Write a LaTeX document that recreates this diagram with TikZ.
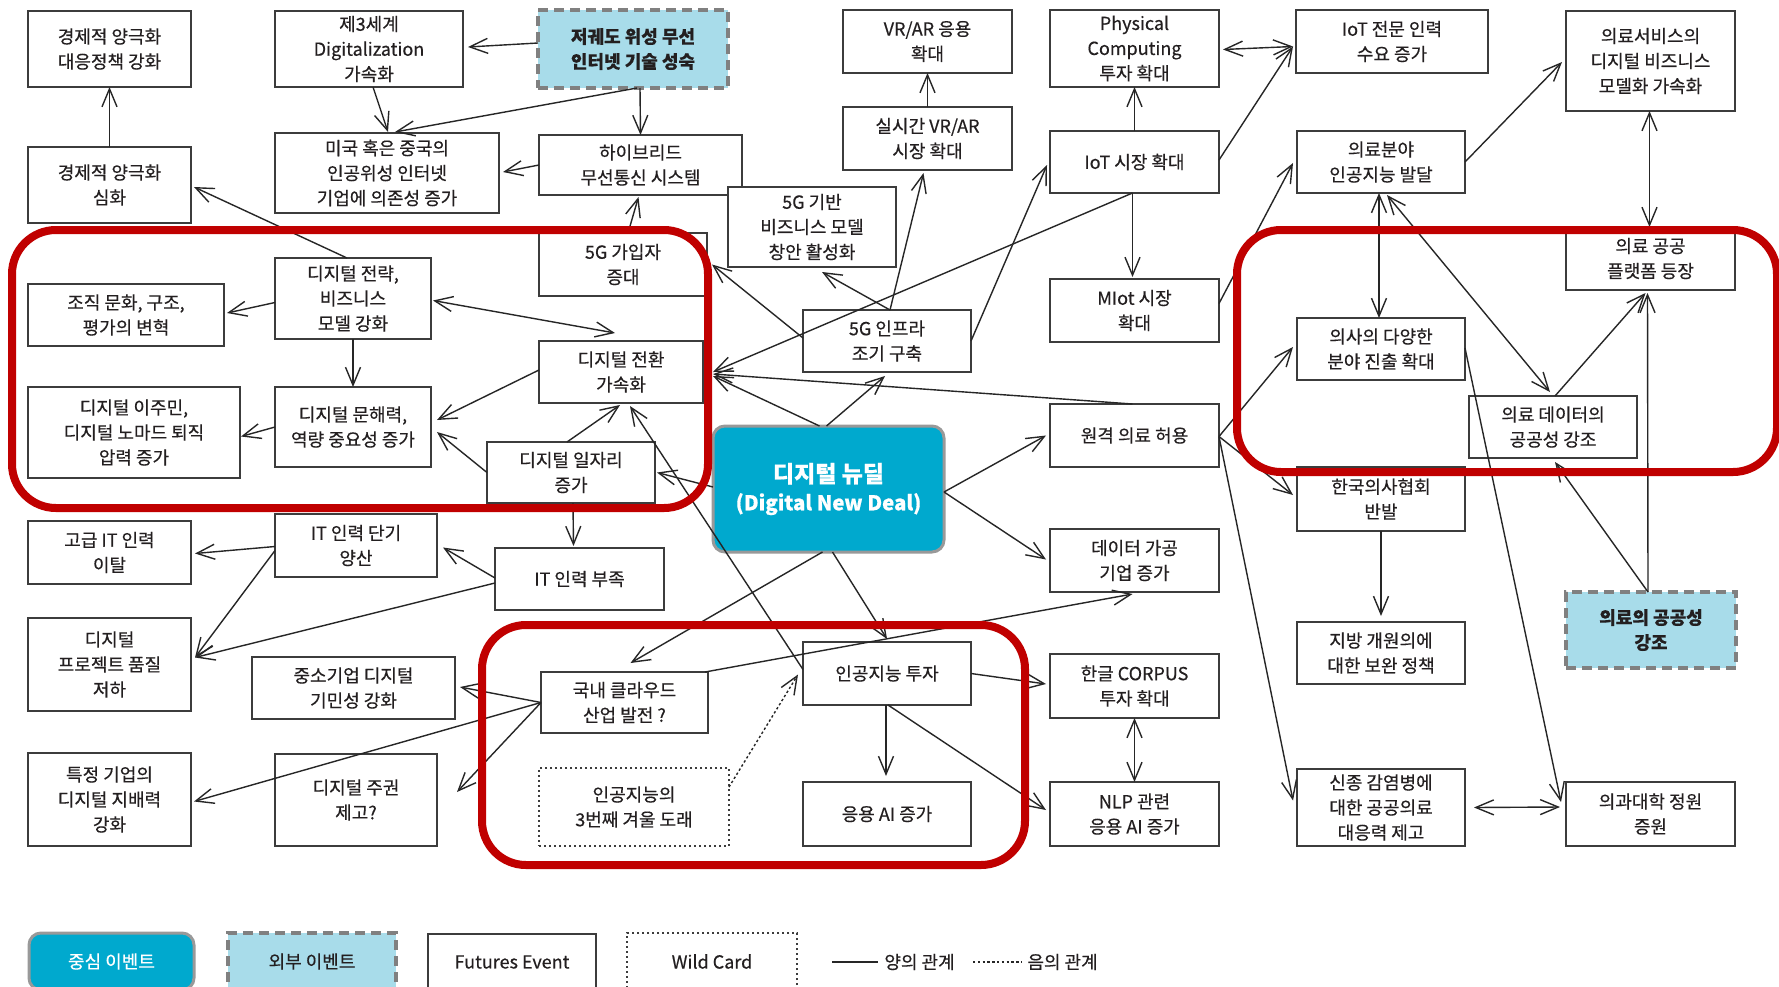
\documentclass[tikz,border=0pt]{standalone}
\usepackage{fontspec}
\newfontfamily\kr[FakeBold=0.4]{Noto Sans CJK KR}
\usetikzlibrary{arrows.meta,calc}
\definecolor{nd}{RGB}{0,169,206}
\definecolor{ext}{RGB}{168,220,234}
\definecolor{bdr}{RGB}{60,60,60}
\definecolor{redl}{RGB}{192,0,0}
\definecolor{txt}{RGB}{35,31,32}
\newcommand\bx[7][]{\node[box,#1,minimum width={(#5-#3)*0.5pt},minimum height={(#6-#4)*0.5pt}] (#2) at ({(#3+#5)/2},{(#4+#6)/2}) {#7};}
\begin{document}
\begin{tikzpicture}[x=0.5pt,y=-0.5pt,
  box/.style={draw=bdr,line width=0.9pt,fill=white,align=center,inner sep=0pt,outer sep=0pt,text=txt,font=\kr\fontsize{9}{12.5}\selectfont},
  extbox/.style={fill=ext,draw=gray,dash pattern=on 5pt off 3pt,line width=1.6pt,font=\kr\bfseries\fontsize{9}{12.5}\selectfont},
  wild/.style={dash pattern=on 1pt off 1.5pt,line width=0.8pt},
  ndbox/.style={fill=nd,draw=gray!80,line width=1.5pt,rounded corners=6pt,text=white,font=\kr\bfseries\fontsize{11.5}{14}\selectfont},
  arr/.style={line width=0.7pt,draw=black!85,-{Straight Barb[length=9pt,width=7.5pt]}},
  arr2/.style={line width=0.7pt,draw=black!85,{Straight Barb[length=9pt,width=7.5pt]}-{Straight Barb[length=9pt,width=7.5pt]}},
  arrd/.style={arr,dash pattern=on 1.2pt off 1.2pt},
  grp/.style={draw=redl,line width=4pt,rounded corners=22pt},
  lbl/.style={font=\kr\fontsize{9}{12.5}\selectfont,text=txt,inner sep=0pt}]
\useasboundingbox (0,0) rectangle (1779,986);
\clip (0,0) rectangle (1779,986);
\fill[white] (0,0) rectangle (1779,986);
% column A
\bx{A1}{28}{11}{191}{87}{경제적 양극화\\대응정책 강화}
\bx{A2}{28}{147}{191}{223}{경제적 양극화\\심화}
\bx{A3}{28}{284}{224}{346}{조직 문화, 구조,\\평가의 변혁}
\bx{A4}{28}{387}{240}{478}{디지털 이주민,\\디지털 노마드 퇴직\\압력 증가}
\bx{A5}{28}{521}{191}{584}{고급 IT 인력\\이탈}
\bx{A6}{28}{618}{191}{711}{디지털\\프로젝트 품질\\저하}
\bx{A7}{28}{753}{191}{846}{특정 기업의\\디지털 지배력\\강화}
% column B
\bx{B1}{275}{11}{463}{87}{제3세계\\Digitalization\\가속화}
\bx{B2}{275}{133}{499}{213}{미국 혹은 중국의\\인공위성 인터넷\\기업에 의존성 증가}
\bx{B3}{275}{258}{431}{339}{디지털 전략,\\비즈니스\\모델 강화}
\bx{B4}{275}{387}{431}{467}{디지털 문해력,\\역량 중요성 증가}
\bx{B5}{275}{514}{437}{577}{IT 인력 단기\\양산}
\bx{B6}{252}{657}{455}{719}{중소기업 디지털\\기민성 강화}
\bx{B7}{275}{754}{437}{846}{디지털 주권\\제고?}
% column C
\bx[extbox]{C1}{538}{10}{728}{88}{저궤도 위성 무선\\인터넷 기술 성숙}
\bx{C2}{539}{135}{742}{195}{하이브리드\\무선통신 시스템}
\bx{C3}{539}{233}{707}{296}{5G 가입자\\증대}
\bx{C4}{539}{341}{703}{403}{디지털 전환\\가속화}
\bx{C5}{487}{442}{655}{503}{디지털 일자리\\증가}
\bx{C6}{495}{548}{664}{610}{IT 인력 부족}
\bx{C7}{541}{672}{708}{733}{국내 클라우드\\산업 발전 ?}
\bx[wild]{C8}{539}{768}{729}{846}{인공지능의\\3번째 겨울 도래}
% column D
\bx{D1}{843}{10}{1012}{73}{VR/AR 응용\\확대}
\bx{D2}{843}{107}{1012}{170}{실시간 VR/AR\\시장 확대}
\bx{D3}{728}{187}{896}{267}{5G 기반\\비즈니스 모델\\창안 활성화}
\bx{D4}{803}{310}{971}{372}{5G 인프라\\조기 구축}
\bx[ndbox]{ND}{713}{426}{944}{552}{디지털 뉴딜\\{\fontsize{10.2}{14}\selectfont(Digital New Deal)}}
\bx{D5}{803}{642}{971}{705}{인공지능 투자}
\bx{D6}{803}{782}{971}{846}{응용 AI 증가}
% column E
\bx{E1}{1050}{10}{1219}{87}{Physical\\Computing\\투자 확대}
\bx{E2}{1050}{131}{1219}{193}{IoT 시장 확대}
\bx{E3}{1050}{279}{1219}{342}{MIot 시장\\확대}
\bx{E4}{1050}{404}{1219}{467}{원격 의료 허용}
\bx{E5}{1050}{529}{1219}{592}{데이터 가공\\기업 증가}
\bx{E6}{1050}{654}{1219}{718}{한글 CORPUS\\투자 확대}
\bx{E7}{1050}{782}{1219}{846}{NLP 관련\\응용 AI 증가}
% column F
\bx{F1}{1296}{10}{1488}{73}{IoT 전문 인력\\수요 증가}
\bx{F2}{1297}{131}{1465}{193}{의료분야\\인공지능 발달}
\bx{F3}{1297}{318}{1465}{380}{의사의 다양한\\분야 진출 확대}
\bx{F4}{1297}{467}{1465}{531}{한국의사협회\\반발}
\bx{F5}{1297}{622}{1465}{684}{지방 개원의에\\대한 보완 정책}
\bx{F6}{1297}{769}{1465}{846}{신종 감염병에\\대한 공공의료\\대응력 제고}
% column G
\bx{G1}{1566}{11}{1735}{111}{의료서비스의\\디지털 비즈니스\\모델화 가속화}
\bx{G2}{1566}{227}{1735}{290}{의료 공공\\플랫폼 등장}
\bx{G3}{1469}{396}{1637}{458}{의료 데이터의\\공공성 강조}
\bx[extbox]{G4}{1566}{592}{1736}{668}{의료의 공공성\\강조}
\bx{G5}{1566}{782}{1735}{846}{의과대학 정원\\증원}
% legend
\bx[ndbox,font=\kr\fontsize{9}{12.5}\selectfont]{L1}{29}{933}{194}{990}{중심 이벤트}
\bx[extbox,font=\kr\fontsize{9}{12.5}\selectfont]{L2}{228}{933}{396}{990}{외부 이벤트}
\bx{L3}{428}{934}{596}{990}{Futures Event}
\bx[wild]{L4}{627}{933}{797}{990}{Wild Card}
\node[lbl,anchor=west] (LP) at (884,962) {양의 관계};
\node[lbl,anchor=west] (LN) at (1027,962) {음의 관계};
\coordinate (LP0) at (832,962);
\coordinate (LN0) at (973,962);
\draw[line width=0.7pt,draw=black!85] (LP0) -- ($(LP.west)+(-6,0)$);
\draw[line width=0.7pt,draw=black!85,dash pattern=on 1.2pt off 1.2pt] (LN0) -- ($(LN.west)+(-5,0)$);
% edges
\draw[arr] (A2.north) -- (A1.south);
\draw[arr] ($(B3.north)+(-6,0)$) -- ($(A2.east)+(3,2)$);
\draw[arr] ($(B1.south)+(4,0)$) -- ($(B2.north)+(1,-1)$);
\draw[arr] ($(C1.south)+(4,0)$) -- ($(B2.north)+(8,-1)$);
\draw[arr] ($(C1.west)+(0,-6)$) -- ($(B1.east)+(5,-2)$);
\draw[arr] ($(C1.south)+(7,0)$) -- (C2.north);
\draw[arr] (C2.west) -- ($(B2.east)+(4,-1)$);
\draw[arr] ($(C3.north)+(5,0)$) -- ($(C2.south)+(-2,2)$);
\draw[arr] ($(D4.west)+(0,-3)$) -- ($(C3.east)+(5,0)$);
\draw[arr] ($(D4.north)+(3,0)$) -- ($(D3.south)+(10,5)$);
\draw[arr] ($(D4.north)+(3,0)$) -- ($(D2.south)+(-4,3)$);
\draw[arr] (D4.east) -- ($(E2.west)+(-3,3)$);
\draw[arr] ($(E2.south)+(-2,0)$) -- ($(C4.east)+(10,0)$);
\draw[arr] ($(E4.north)+(-2,0)$) -- ($(C4.east)+(10,2)$);
\draw[arr] ($(ND.north)+(-9,0)$) -- ($(C4.east)+(10,4)$);
\draw[arr] ($(ND.north)+(-2,0)$) -- ($(D4.south)+(-2,4)$);
\draw[arr] ($(ND.west)+(0,-2)$) -- ($(C5.east)+(2,0)$);
\draw[arr] ($(C5.north)+(-4,0)$) -- ($(C4.south)+(-1,2)$);
\draw[arr] ($(C4.west)+(0,-2)$) -- ($(B4.east)+(6,-7)$);
\draw[arr] (C5.west) -- ($(B4.east)+(6,5)$);
\draw[arr] ($(C5.south)+(2,0)$) -- ($(C6.north)+(-6,-2)$);
\draw[arr] ($(C6.west)+(0,-1)$) -- ($(B5.east)+(6,2)$);
\draw[arr] ($(C6.west)+(0,4)$) -- ($(A6.east)+(4,-7)$);
\draw[arr] ($(B5.west)+(0,1)$) -- ($(A5.east)+(4,1)$);
\draw[arr] ($(B5.west)+(0,5)$) -- ($(A6.east)+(4,-7)$);
\draw[arr] (B3.south) -- (B4.north);
\draw[arr] (B4.west) -- ($(A4.east)+(1,4)$);
\draw[arr] ($(B3.west)+(0,4)$) -- ($(A3.east)+(3,-2)$);
\draw[arr2] ($(B3.east)+(2,2)$) -- ($(C4.north)+(-6,-8)$);
\draw[arr] ($(D5.west)+(0,-4)$) -- ($(C4.south)+(9,3)$);
\draw[arr] ($(ND.south)+(-6,0)$) -- ($(C7.north)+(6,-9)$);
\draw[arr] ($(ND.south)+(4,0)$) -- ($(D5.north)+(0,-3)$);
\draw[arr] ($(C7.north east)+(-3,0)$) -- ($(E5.south)+(-2,2)$);
\draw[arr] ($(ND.east)+(0,3)$) -- ($(E4.west)+(-4,0)$);
\draw[arr] ($(ND.east)+(0,3)$) -- ($(E5.west)+(-4,-1)$);
\draw[arr] ($(E4.east)+(0,1)$) -- ($(F3.west)+(-4,-2)$);
\draw[arr] ($(E4.east)+(0,1)$) -- ($(F4.west)+(-4,-4)$);
\draw[arr] ($(E4.east)+(0,1)$) -- ($(F6.west)+(-4,-7)$);
\draw[arr] ($(E3.east)+(0,-7)$) -- ($(F2.west)+(-4,1)$);
\draw[arr] ($(E2.east)+(0,-2)$) -- ($(F1.west)+(-3,5)$);
\draw[arr2] ($(E1.east)+(4,1)$) -- ($(F1.west)+(-3,5)$);
\draw[arr] (E2.north) -- (E1.south);
\draw[arr] ($(E2.south)+(-2,0)$) -- ($(E3.north)+(-2,-2)$);
\draw[arr] (D2.north) -- (D1.south);
\draw[arr] (F2.east) -- ($(G1.west)+(-4,1)$);
\draw[arr2] ($(G1.south)+(-1,0)$) -- ($(G2.north)+(-1,0)$);
\draw[arr2] ($(F2.south)+(-2,0)$) -- ($(F3.north)+(-2,0)$);
\draw[arr2] ($(F2.south)+(6,2)$) -- ($(G3.north)+(-3,-4)$);
\draw[arr] ($(G3.north)+(2,0)$) -- ($(G2.south)+(-5,3)$);
\draw[arr] ($(G4.north)+(-3,0)$) -- ($(G3.south)+(2,4)$);
\draw[arr] ($(G4.north)+(-3,0)$) -- ($(G2.south)+(-3,3)$);
\draw[arr] ($(F3.east)+(0,-1)$) -- ($(G5.west)+(-5,-12)$);
\draw[arr2] ($(F6.east)+(9,0)$) -- ($(G5.west)+(-6,-7)$);
\draw[arr] (F4.south) -- ($(F5.north)+(0,-6)$);
\draw[arr] (C7.west) -- ($(B6.east)+(5,-1)$);
\draw[arr] (C7.west) -- ($(A7.east)+(3,2)$);
\draw[arr] (C7.west) -- ($(B7.east)+(20,-8)$);
\draw[arrd] ($(C8.east)+(0,-20)$) -- ($(D5.west)+(-5,1)$);
\draw[arr] ($(D5.south)+(-1,0)$) -- ($(D6.north)+(-1,-6)$);
\draw[arr] ($(D5.south)+(1,0)$) -- ($(E7.west)+(-4,-4)$);
\draw[arr] (D5.east) -- ($(E6.west)+(-4,-2)$);
\draw[arr2] (E6.south) -- (E7.north);
% red groups
\draw[grp] (12,230) rectangle (708,508);
\draw[grp] (482,625) rectangle (1025,865);
\draw[grp] (1237,230) rectangle (1777,472);
\end{tikzpicture}
\end{document}
